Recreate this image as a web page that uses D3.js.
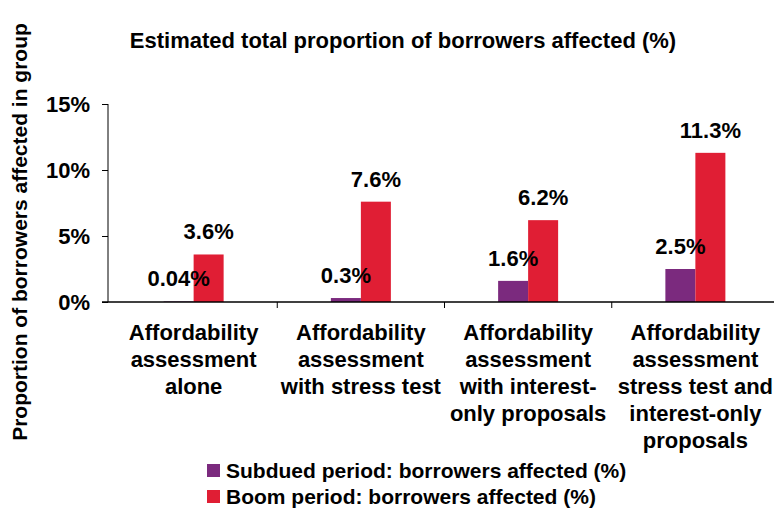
<!DOCTYPE html>
<html>
<head>
<meta charset="utf-8">
<script src="https://cdn.jsdelivr.net/npm/d3@7"></script>
<style>
  body { margin: 0; background: #fff; }
  svg { display: block; font-family: "Liberation Sans", Arial, sans-serif; }
</style>
</head>
<body>
<svg id="chart" width="774" height="509"></svg>
<script>
const categories = [
  ["Affordability", "assessment", "alone"],
  ["Affordability", "assessment", "with stress test"],
  ["Affordability", "assessment", "with interest-", "only proposals"],
  ["Affordability", "assessment", "stress test and", "interest-only", "proposals"]
];
const categoryKeys = ["c1", "c2", "c3", "c4"];
const subdued = [0.04, 0.3, 1.6, 2.5];
const boom = [3.6, 7.6, 6.2, 11.3];
const subduedLabels = ["0.04%", "0.3%", "1.6%", "2.5%"];
const boomLabels = ["3.6%", "7.6%", "6.2%", "11.3%"];
const yTicks = [0, 5, 10, 15];
const seriesNames = ["Subdued period: borrowers affected (%)", "Boom period: borrowers affected (%)"];
const colors = ["#7B2A7E", "#E01E34"];

const svg = d3.select("#chart");
const x = d3.scaleBand().domain(categoryKeys).range([110, 779]).paddingInner(0).paddingOuter(0);
const y = d3.scaleLinear().domain([0, 15]).range([302, 104]);
const barW = 30;
const FW = "bold";

// Title
svg.append("text").attr("x", 403).attr("y", 48).attr("text-anchor", "middle")
  .attr("font-size", 22).attr("font-weight", FW).attr("fill", "#000")
  .text("Estimated total proportion of borrowers affected (%)");

// Y axis title
svg.append("text").attr("transform", "translate(27,232) rotate(-90)")
  .attr("text-anchor", "middle").attr("font-size", 21).attr("font-weight", FW)
  .text("Proportion of borrowers affected in group");

// Bars
const groups = categoryKeys.map((k, i) => ({k, i}));
svg.selectAll("rect.sub").data(groups).enter().append("rect")
  .attr("x", d => x(d.k) + x.bandwidth() / 2 - barW)
  .attr("y", d => y(subdued[d.i]))
  .attr("width", barW)
  .attr("height", d => y(0) - y(subdued[d.i]))
  .attr("fill", colors[0]);
svg.selectAll("rect.boom").data(groups).enter().append("rect")
  .attr("x", d => x(d.k) + x.bandwidth() / 2)
  .attr("y", d => y(boom[d.i]))
  .attr("width", barW)
  .attr("height", d => y(0) - y(boom[d.i]))
  .attr("fill", colors[1]);

// Y axis
const yAxis = d3.axisLeft(y).tickValues(yTicks).tickFormat(d => d + "%").tickSize(6).tickPadding(12);
const gy = svg.append("g").attr("transform", "translate(108,0)").call(yAxis);
gy.attr("font-size", 22).attr("font-family", "Liberation Sans, Arial, sans-serif").attr("font-weight", FW);
gy.select(".domain").attr("stroke", "#000").attr("d", "M0,104V302");
gy.selectAll(".tick line").attr("stroke", "#000");
gy.selectAll(".tick text").attr("fill", "#000").attr("dy", "0.36em");

// X axis line and ticks
svg.append("line").attr("x1", 102).attr("x2", 774).attr("y1", 302).attr("y2", 302).attr("stroke", "#000").attr("stroke-width", 1.3);
svg.selectAll("line.xt").data(categoryKeys.slice(1)).enter().append("line")
  .attr("x1", d => x(d)).attr("x2", d => x(d)).attr("y1", 302).attr("y2", 308).attr("stroke", "#000");

// Data labels
svg.selectAll("text.sl").data(groups).enter().append("text")
  .attr("x", d => x(d.k) + x.bandwidth() / 2 - barW / 2)
  .attr("y", d => y(subdued[d.i]) - 15)
  .attr("text-anchor", "middle").attr("font-size", 22).attr("font-weight", FW)
  .text(d => subduedLabels[d.i]);
svg.selectAll("text.bl").data(groups).enter().append("text")
  .attr("x", d => x(d.k) + x.bandwidth() / 2 + barW / 2)
  .attr("y", d => y(boom[d.i]) - 15)
  .attr("text-anchor", "middle").attr("font-size", 22).attr("font-weight", FW)
  .text(d => boomLabels[d.i]);

// Category labels
groups.forEach(d => {
  const t = svg.append("text").attr("text-anchor", "middle").attr("font-size", 22).attr("font-weight", FW);
  categories[d.i].forEach((line, j) => {
    t.append("tspan").attr("x", x(d.k) + x.bandwidth() / 2).attr("y", 340 + j * 27).text(line);
  });
});

// Legend
seriesNames.forEach((name, i) => {
  svg.append("rect").attr("x", 207).attr("y", 464 + i * 26).attr("width", 13).attr("height", 13).attr("fill", colors[i]);
  svg.append("text").attr("x", 226).attr("y", 478 + i * 26).attr("font-size", 21).attr("font-weight", FW).text(name);
});
</script>
</body>
</html>
